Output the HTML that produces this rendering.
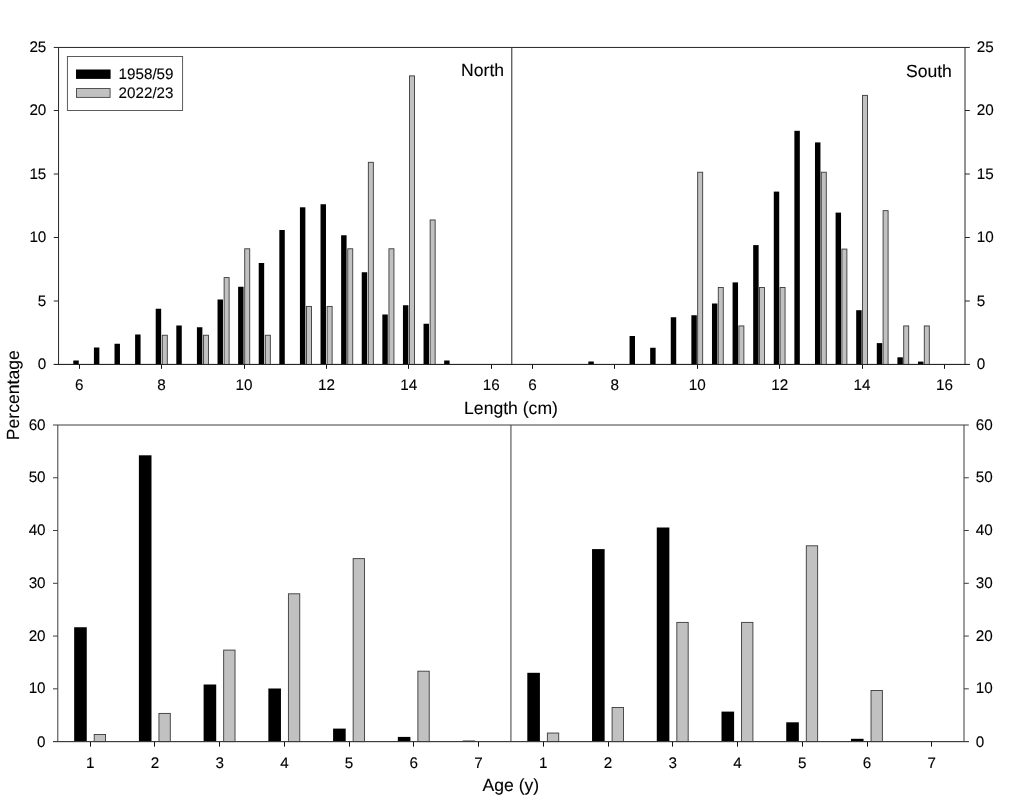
<!DOCTYPE html>
<html lang="en">
<head>
<meta charset="utf-8">
<title>Length and age distributions, North and South</title>
<style>
html,body{margin:0;padding:0;background:#fff;}
body{width:1024px;height:800px;overflow:hidden;}
svg{display:block;}
svg text{text-rendering:geometricPrecision;font-family:"Liberation Sans",sans-serif;fill:#000;stroke:#000;stroke-width:0.1px;}
</style>
</head>
<body>
<svg width="1024" height="800" viewBox="0 0 1024 800">
<rect x="0" y="0" width="1024" height="800" fill="#fff"/>
<line x1="53.75" y1="47.45" x2="969.8" y2="47.45" stroke="#262626" stroke-width="1.0"/>
<line x1="53.75" y1="364.45" x2="969.8" y2="364.45" stroke="#262626" stroke-width="1.0"/>
<line x1="58.55" y1="47.45" x2="58.55" y2="364.45" stroke="#262626" stroke-width="1.0"/>
<line x1="965" y1="47.45" x2="965" y2="364.45" stroke="#262626" stroke-width="1.0"/>
<line x1="511.8" y1="47.45" x2="511.8" y2="364.45" stroke="#262626" stroke-width="1.0"/>
<line x1="53" y1="425" x2="968.8" y2="425" stroke="#3c3c3c" stroke-width="1.0"/>
<line x1="53" y1="741.6" x2="968.8" y2="741.6" stroke="#3c3c3c" stroke-width="1.0"/>
<line x1="57.8" y1="425" x2="57.8" y2="741.6" stroke="#3c3c3c" stroke-width="1.0"/>
<line x1="964" y1="425" x2="964" y2="741.6" stroke="#3c3c3c" stroke-width="1.0"/>
<line x1="510.95" y1="425" x2="510.95" y2="741.6" stroke="#3c3c3c" stroke-width="1.0"/>
<text transform="translate(46.35 369.05) scale(1 1)" text-anchor="end" font-size="15.25">0</text>
<text transform="translate(976.8 369.05) scale(1 1)" text-anchor="start" font-size="15.25">0</text>
<line x1="53.75" y1="301" x2="58.55" y2="301" stroke="#262626" stroke-width="1.0"/>
<line x1="965" y1="301" x2="969.8" y2="301" stroke="#262626" stroke-width="1.0"/>
<text transform="translate(46.35 305.6) scale(1 1)" text-anchor="end" font-size="15.25">5</text>
<text transform="translate(976.8 305.6) scale(1 1)" text-anchor="start" font-size="15.25">5</text>
<line x1="53.75" y1="237.5" x2="58.55" y2="237.5" stroke="#262626" stroke-width="1.0"/>
<line x1="965" y1="237.5" x2="969.8" y2="237.5" stroke="#262626" stroke-width="1.0"/>
<text transform="translate(46.35 242.1) scale(1 1)" text-anchor="end" font-size="15.25">10</text>
<text transform="translate(976.8 242.1) scale(1 1)" text-anchor="start" font-size="15.25">10</text>
<line x1="53.75" y1="174" x2="58.55" y2="174" stroke="#262626" stroke-width="1.0"/>
<line x1="965" y1="174" x2="969.8" y2="174" stroke="#262626" stroke-width="1.0"/>
<text transform="translate(46.35 178.6) scale(1 1)" text-anchor="end" font-size="15.25">15</text>
<text transform="translate(976.8 178.6) scale(1 1)" text-anchor="start" font-size="15.25">15</text>
<line x1="53.75" y1="110.5" x2="58.55" y2="110.5" stroke="#262626" stroke-width="1.0"/>
<line x1="965" y1="110.5" x2="969.8" y2="110.5" stroke="#262626" stroke-width="1.0"/>
<text transform="translate(46.35 115.1) scale(1 1)" text-anchor="end" font-size="15.25">20</text>
<text transform="translate(976.8 115.1) scale(1 1)" text-anchor="start" font-size="15.25">20</text>
<text transform="translate(46.35 52.05) scale(1 1)" text-anchor="end" font-size="15.25">25</text>
<text transform="translate(976.8 52.05) scale(1 1)" text-anchor="start" font-size="15.25">25</text>
<text transform="translate(45.6 746.8) scale(1 1)" text-anchor="end" font-size="15.25">0</text>
<text transform="translate(975.8 746.8) scale(1 1)" text-anchor="start" font-size="15.25">0</text>
<line x1="53" y1="688.83" x2="57.8" y2="688.83" stroke="#3c3c3c" stroke-width="1.0"/>
<line x1="964" y1="688.83" x2="968.8" y2="688.83" stroke="#3c3c3c" stroke-width="1.0"/>
<text transform="translate(45.6 693.43) scale(1 1)" text-anchor="end" font-size="15.25">10</text>
<text transform="translate(975.8 693.43) scale(1 1)" text-anchor="start" font-size="15.25">10</text>
<line x1="53" y1="636.07" x2="57.8" y2="636.07" stroke="#3c3c3c" stroke-width="1.0"/>
<line x1="964" y1="636.07" x2="968.8" y2="636.07" stroke="#3c3c3c" stroke-width="1.0"/>
<text transform="translate(45.6 640.67) scale(1 1)" text-anchor="end" font-size="15.25">20</text>
<text transform="translate(975.8 640.67) scale(1 1)" text-anchor="start" font-size="15.25">20</text>
<line x1="53" y1="583.3" x2="57.8" y2="583.3" stroke="#3c3c3c" stroke-width="1.0"/>
<line x1="964" y1="583.3" x2="968.8" y2="583.3" stroke="#3c3c3c" stroke-width="1.0"/>
<text transform="translate(45.6 587.9) scale(1 1)" text-anchor="end" font-size="15.25">30</text>
<text transform="translate(975.8 587.9) scale(1 1)" text-anchor="start" font-size="15.25">30</text>
<line x1="53" y1="530.53" x2="57.8" y2="530.53" stroke="#3c3c3c" stroke-width="1.0"/>
<line x1="964" y1="530.53" x2="968.8" y2="530.53" stroke="#3c3c3c" stroke-width="1.0"/>
<text transform="translate(45.6 535.13) scale(1 1)" text-anchor="end" font-size="15.25">40</text>
<text transform="translate(975.8 535.13) scale(1 1)" text-anchor="start" font-size="15.25">40</text>
<line x1="53" y1="477.77" x2="57.8" y2="477.77" stroke="#3c3c3c" stroke-width="1.0"/>
<line x1="964" y1="477.77" x2="968.8" y2="477.77" stroke="#3c3c3c" stroke-width="1.0"/>
<text transform="translate(45.6 482.37) scale(1 1)" text-anchor="end" font-size="15.25">50</text>
<text transform="translate(975.8 482.37) scale(1 1)" text-anchor="start" font-size="15.25">50</text>
<text transform="translate(45.6 429.6) scale(1 1)" text-anchor="end" font-size="15.25">60</text>
<text transform="translate(975.8 429.6) scale(1 1)" text-anchor="start" font-size="15.25">60</text>
<line x1="79.5" y1="364.45" x2="79.5" y2="368.85" stroke="#111" stroke-width="1.0"/>
<text transform="translate(79.15 389.65) scale(1 1)" text-anchor="middle" font-size="15.25">6</text>
<line x1="161.5" y1="364.45" x2="161.5" y2="368.85" stroke="#111" stroke-width="1.0"/>
<text transform="translate(161.56 389.65) scale(1 1)" text-anchor="middle" font-size="15.25">8</text>
<line x1="244.5" y1="364.45" x2="244.5" y2="368.85" stroke="#111" stroke-width="1.0"/>
<text transform="translate(243.97 389.65) scale(1 1)" text-anchor="middle" font-size="15.25">10</text>
<line x1="326.5" y1="364.45" x2="326.5" y2="368.85" stroke="#111" stroke-width="1.0"/>
<text transform="translate(326.38 389.65) scale(1 1)" text-anchor="middle" font-size="15.25">12</text>
<line x1="408.5" y1="364.45" x2="408.5" y2="368.85" stroke="#111" stroke-width="1.0"/>
<text transform="translate(408.79 389.65) scale(1 1)" text-anchor="middle" font-size="15.25">14</text>
<line x1="491.5" y1="364.45" x2="491.5" y2="368.85" stroke="#111" stroke-width="1.0"/>
<text transform="translate(491.2 389.65) scale(1 1)" text-anchor="middle" font-size="15.25">16</text>
<line x1="532.5" y1="364.45" x2="532.5" y2="368.85" stroke="#111" stroke-width="1.0"/>
<text transform="translate(532.4 389.65) scale(1 1)" text-anchor="middle" font-size="15.25">6</text>
<line x1="614.5" y1="364.45" x2="614.5" y2="368.85" stroke="#111" stroke-width="1.0"/>
<text transform="translate(614.81 389.65) scale(1 1)" text-anchor="middle" font-size="15.25">8</text>
<line x1="697.5" y1="364.45" x2="697.5" y2="368.85" stroke="#111" stroke-width="1.0"/>
<text transform="translate(697.22 389.65) scale(1 1)" text-anchor="middle" font-size="15.25">10</text>
<line x1="779.5" y1="364.45" x2="779.5" y2="368.85" stroke="#111" stroke-width="1.0"/>
<text transform="translate(779.63 389.65) scale(1 1)" text-anchor="middle" font-size="15.25">12</text>
<line x1="862.5" y1="364.45" x2="862.5" y2="368.85" stroke="#111" stroke-width="1.0"/>
<text transform="translate(862.04 389.65) scale(1 1)" text-anchor="middle" font-size="15.25">14</text>
<line x1="944.5" y1="364.45" x2="944.5" y2="368.85" stroke="#111" stroke-width="1.0"/>
<text transform="translate(944.45 389.65) scale(1 1)" text-anchor="middle" font-size="15.25">16</text>
<line x1="90.5" y1="741.6" x2="90.5" y2="746.6" stroke="#111" stroke-width="1.0"/>
<text transform="translate(90.16 767.6) scale(1 1)" text-anchor="middle" font-size="15.25">1</text>
<line x1="154.5" y1="741.6" x2="154.5" y2="746.6" stroke="#111" stroke-width="1.0"/>
<text transform="translate(154.89 767.6) scale(1 1)" text-anchor="middle" font-size="15.25">2</text>
<line x1="219.5" y1="741.6" x2="219.5" y2="746.6" stroke="#111" stroke-width="1.0"/>
<text transform="translate(219.62 767.6) scale(1 1)" text-anchor="middle" font-size="15.25">3</text>
<line x1="284.5" y1="741.6" x2="284.5" y2="746.6" stroke="#111" stroke-width="1.0"/>
<text transform="translate(284.36 767.6) scale(1 1)" text-anchor="middle" font-size="15.25">4</text>
<line x1="349.5" y1="741.6" x2="349.5" y2="746.6" stroke="#111" stroke-width="1.0"/>
<text transform="translate(349.09 767.6) scale(1 1)" text-anchor="middle" font-size="15.25">5</text>
<line x1="413.5" y1="741.6" x2="413.5" y2="746.6" stroke="#111" stroke-width="1.0"/>
<text transform="translate(413.82 767.6) scale(1 1)" text-anchor="middle" font-size="15.25">6</text>
<line x1="478.5" y1="741.6" x2="478.5" y2="746.6" stroke="#111" stroke-width="1.0"/>
<text transform="translate(478.55 767.6) scale(1 1)" text-anchor="middle" font-size="15.25">7</text>
<line x1="543.5" y1="741.6" x2="543.5" y2="746.6" stroke="#111" stroke-width="1.0"/>
<text transform="translate(543.31 767.6) scale(1 1)" text-anchor="middle" font-size="15.25">1</text>
<line x1="608.5" y1="741.6" x2="608.5" y2="746.6" stroke="#111" stroke-width="1.0"/>
<text transform="translate(608.04 767.6) scale(1 1)" text-anchor="middle" font-size="15.25">2</text>
<line x1="672.5" y1="741.6" x2="672.5" y2="746.6" stroke="#111" stroke-width="1.0"/>
<text transform="translate(672.77 767.6) scale(1 1)" text-anchor="middle" font-size="15.25">3</text>
<line x1="737.5" y1="741.6" x2="737.5" y2="746.6" stroke="#111" stroke-width="1.0"/>
<text transform="translate(737.5 767.6) scale(1 1)" text-anchor="middle" font-size="15.25">4</text>
<line x1="802.5" y1="741.6" x2="802.5" y2="746.6" stroke="#111" stroke-width="1.0"/>
<text transform="translate(802.24 767.6) scale(1 1)" text-anchor="middle" font-size="15.25">5</text>
<line x1="867.5" y1="741.6" x2="867.5" y2="746.6" stroke="#111" stroke-width="1.0"/>
<text transform="translate(866.97 767.6) scale(1 1)" text-anchor="middle" font-size="15.25">6</text>
<line x1="931.5" y1="741.6" x2="931.5" y2="746.6" stroke="#111" stroke-width="1.0"/>
<text transform="translate(931.69 767.6) scale(1 1)" text-anchor="middle" font-size="15.25">7</text>
<rect x="73.3" y="360.5" width="5.45" height="3.95" fill="#000"/>
<rect x="93.91" y="347.5" width="5.45" height="16.95" fill="#000"/>
<rect x="114.51" y="343.75" width="5.45" height="20.7" fill="#000"/>
<rect x="135.11" y="334.5" width="5.45" height="29.95" fill="#000"/>
<rect x="155.71" y="308.75" width="5.45" height="55.7" fill="#000"/>
<rect x="176.31" y="325.5" width="5.45" height="38.95" fill="#000"/>
<rect x="196.92" y="327.25" width="5.45" height="37.2" fill="#000"/>
<rect x="217.52" y="299.5" width="5.45" height="64.95" fill="#000"/>
<rect x="238.12" y="286.75" width="5.45" height="77.7" fill="#000"/>
<rect x="258.72" y="263" width="5.45" height="101.45" fill="#000"/>
<rect x="279.33" y="230" width="5.45" height="134.45" fill="#000"/>
<rect x="299.93" y="207.3" width="5.45" height="157.15" fill="#000"/>
<rect x="320.53" y="204.25" width="5.45" height="160.2" fill="#000"/>
<rect x="341.13" y="235.25" width="5.45" height="129.2" fill="#000"/>
<rect x="361.74" y="272.25" width="5.45" height="92.2" fill="#000"/>
<rect x="382.34" y="314.5" width="5.45" height="49.95" fill="#000"/>
<rect x="402.94" y="305.25" width="5.45" height="59.2" fill="#000"/>
<rect x="423.54" y="323.75" width="5.45" height="40.7" fill="#000"/>
<rect x="444.15" y="360.5" width="5.45" height="3.95" fill="#000"/>
<rect x="162.31" y="335.23" width="5" height="29.22" fill="#c1c1c1" stroke="#3a3a3a" stroke-width="0.9"/>
<rect x="203.52" y="335.23" width="5" height="29.22" fill="#c1c1c1" stroke="#3a3a3a" stroke-width="0.9"/>
<rect x="224.12" y="277.6" width="5" height="86.85" fill="#c1c1c1" stroke="#3a3a3a" stroke-width="0.9"/>
<rect x="244.72" y="248.78" width="5" height="115.67" fill="#c1c1c1" stroke="#3a3a3a" stroke-width="0.9"/>
<rect x="265.32" y="335.23" width="5" height="29.22" fill="#c1c1c1" stroke="#3a3a3a" stroke-width="0.9"/>
<rect x="306.53" y="306.41" width="5" height="58.04" fill="#c1c1c1" stroke="#3a3a3a" stroke-width="0.9"/>
<rect x="327.13" y="306.41" width="5" height="58.04" fill="#c1c1c1" stroke="#3a3a3a" stroke-width="0.9"/>
<rect x="347.74" y="248.78" width="5" height="115.67" fill="#c1c1c1" stroke="#3a3a3a" stroke-width="0.9"/>
<rect x="368.34" y="162.32" width="5" height="202.13" fill="#c1c1c1" stroke="#3a3a3a" stroke-width="0.9"/>
<rect x="388.94" y="248.78" width="5" height="115.67" fill="#c1c1c1" stroke="#3a3a3a" stroke-width="0.9"/>
<rect x="409.54" y="75.87" width="5" height="288.58" fill="#c1c1c1" stroke="#3a3a3a" stroke-width="0.9"/>
<rect x="430.14" y="219.96" width="5" height="144.49" fill="#c1c1c1" stroke="#3a3a3a" stroke-width="0.9"/>
<rect x="588.36" y="361.5" width="5.45" height="2.95" fill="#000"/>
<rect x="629.56" y="336" width="5.45" height="28.45" fill="#000"/>
<rect x="650.17" y="347.75" width="5.45" height="16.7" fill="#000"/>
<rect x="670.77" y="317.25" width="5.45" height="47.2" fill="#000"/>
<rect x="691.37" y="315.25" width="5.45" height="49.2" fill="#000"/>
<rect x="711.98" y="303.5" width="5.45" height="60.95" fill="#000"/>
<rect x="732.58" y="282.4" width="5.45" height="82.05" fill="#000"/>
<rect x="753.18" y="245.1" width="5.45" height="119.35" fill="#000"/>
<rect x="773.78" y="191.6" width="5.45" height="172.85" fill="#000"/>
<rect x="794.38" y="130.8" width="5.45" height="233.65" fill="#000"/>
<rect x="814.99" y="142.4" width="5.45" height="222.05" fill="#000"/>
<rect x="835.59" y="212.6" width="5.45" height="151.85" fill="#000"/>
<rect x="856.19" y="310.2" width="5.45" height="54.25" fill="#000"/>
<rect x="876.79" y="343.1" width="5.45" height="21.35" fill="#000"/>
<rect x="897.4" y="357.3" width="5.45" height="7.15" fill="#000"/>
<rect x="918" y="361.6" width="5.45" height="2.85" fill="#000"/>
<rect x="697.67" y="172.23" width="5" height="192.22" fill="#c1c1c1" stroke="#3a3a3a" stroke-width="0.9"/>
<rect x="718.28" y="287.5" width="5" height="76.95" fill="#c1c1c1" stroke="#3a3a3a" stroke-width="0.9"/>
<rect x="738.88" y="325.93" width="5" height="38.52" fill="#c1c1c1" stroke="#3a3a3a" stroke-width="0.9"/>
<rect x="759.48" y="287.5" width="5" height="76.95" fill="#c1c1c1" stroke="#3a3a3a" stroke-width="0.9"/>
<rect x="780.08" y="287.5" width="5" height="76.95" fill="#c1c1c1" stroke="#3a3a3a" stroke-width="0.9"/>
<rect x="821.29" y="172.23" width="5" height="192.22" fill="#c1c1c1" stroke="#3a3a3a" stroke-width="0.9"/>
<rect x="841.89" y="249.08" width="5" height="115.37" fill="#c1c1c1" stroke="#3a3a3a" stroke-width="0.9"/>
<rect x="862.49" y="95.38" width="5" height="269.07" fill="#c1c1c1" stroke="#3a3a3a" stroke-width="0.9"/>
<rect x="883.1" y="210.65" width="5" height="153.8" fill="#c1c1c1" stroke="#3a3a3a" stroke-width="0.9"/>
<rect x="903.7" y="325.93" width="5" height="38.52" fill="#c1c1c1" stroke="#3a3a3a" stroke-width="0.9"/>
<rect x="924.3" y="325.93" width="5" height="38.52" fill="#c1c1c1" stroke="#3a3a3a" stroke-width="0.9"/>
<rect x="74.16" y="627.25" width="12.6" height="114.35" fill="#000"/>
<rect x="138.89" y="455.3" width="12.6" height="286.3" fill="#000"/>
<rect x="203.62" y="684.5" width="12.6" height="57.1" fill="#000"/>
<rect x="268.36" y="688.5" width="12.6" height="53.1" fill="#000"/>
<rect x="333.09" y="728.6" width="12.6" height="13" fill="#000"/>
<rect x="397.82" y="736.9" width="12.6" height="4.7" fill="#000"/>
<rect x="462.55" y="740.6" width="12.6" height="1" fill="#000"/>
<rect x="94.21" y="734.51" width="11.35" height="7.09" fill="#c1c1c1" stroke="#3a3a3a" stroke-width="0.9"/>
<rect x="158.94" y="713.41" width="11.35" height="28.19" fill="#c1c1c1" stroke="#3a3a3a" stroke-width="0.9"/>
<rect x="223.67" y="650.09" width="11.35" height="91.51" fill="#c1c1c1" stroke="#3a3a3a" stroke-width="0.9"/>
<rect x="288.41" y="593.8" width="11.35" height="147.8" fill="#c1c1c1" stroke="#3a3a3a" stroke-width="0.9"/>
<rect x="353.14" y="558.63" width="11.35" height="182.97" fill="#c1c1c1" stroke="#3a3a3a" stroke-width="0.9"/>
<rect x="417.87" y="671.19" width="11.35" height="70.41" fill="#c1c1c1" stroke="#3a3a3a" stroke-width="0.9"/>
<rect x="527.31" y="672.8" width="12.6" height="68.8" fill="#000"/>
<rect x="592.04" y="549.1" width="12.6" height="192.5" fill="#000"/>
<rect x="656.77" y="527.5" width="12.6" height="214.1" fill="#000"/>
<rect x="721.5" y="711.6" width="12.6" height="30" fill="#000"/>
<rect x="786.24" y="722.3" width="12.6" height="19.3" fill="#000"/>
<rect x="850.97" y="738.8" width="12.6" height="2.8" fill="#000"/>
<rect x="547.37" y="733.04" width="11.35" height="8.56" fill="#c1c1c1" stroke="#3a3a3a" stroke-width="0.9"/>
<rect x="612.1" y="707.51" width="11.35" height="34.09" fill="#c1c1c1" stroke="#3a3a3a" stroke-width="0.9"/>
<rect x="676.83" y="622.4" width="11.35" height="119.2" fill="#c1c1c1" stroke="#3a3a3a" stroke-width="0.9"/>
<rect x="741.56" y="622.4" width="11.35" height="119.2" fill="#c1c1c1" stroke="#3a3a3a" stroke-width="0.9"/>
<rect x="806.29" y="545.8" width="11.35" height="195.8" fill="#c1c1c1" stroke="#3a3a3a" stroke-width="0.9"/>
<rect x="871.02" y="690.49" width="11.35" height="51.11" fill="#c1c1c1" stroke="#3a3a3a" stroke-width="0.9"/>
<line x1="53.75" y1="364.45" x2="969.8" y2="364.45" stroke="#262626" stroke-width="1.0"/>
<line x1="53" y1="741.6" x2="968.8" y2="741.6" stroke="#3c3c3c" stroke-width="1.0"/>
<rect x="67.4" y="56.45" width="115.2" height="54" fill="#fff" stroke="#4a4a4a" stroke-width="0.9"/>
<rect x="76" y="69.5" width="34.6" height="9.4" fill="#000"/>
<rect x="76.5" y="88.55" width="33.6" height="8.85" fill="#c1c1c1" stroke="#444" stroke-width="0.9"/>
<text x="118.6" y="79.1" text-anchor="start" font-size="15.2">1958/59</text>
<text x="118.6" y="97.8" text-anchor="start" font-size="15.2">2022/23</text>
<text x="504.1" y="75.9" text-anchor="end" font-size="17.6">North</text>
<text x="951.9" y="77" text-anchor="end" font-size="17.6">South</text>
<text x="511" y="413.7" text-anchor="middle" font-size="17.6">Length (cm)</text>
<text x="510.8" y="790.8" text-anchor="middle" font-size="17.6">Age (y)</text>
<text transform="translate(19.4 395.2) rotate(-90)" text-anchor="middle" font-size="17.6">Percentage</text>
</svg>
</body>
</html>
